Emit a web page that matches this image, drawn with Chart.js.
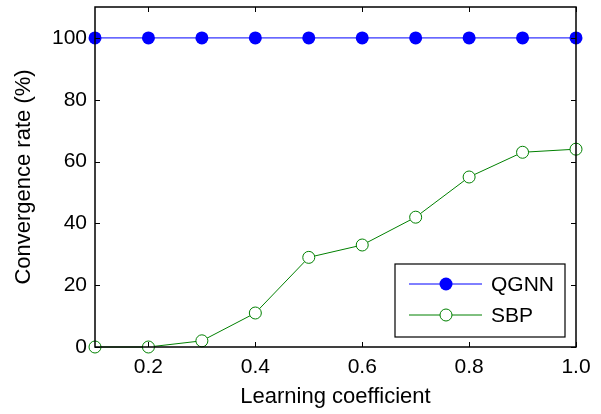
<script src="https://cdn.jsdelivr.net/npm/chart.js"></script>
<style>
  body { margin: 0; background: #fff; }
  #wrap { width: 601px; height: 414px; }
</style>
<div id="wrap"><canvas id="chart"></canvas></div>
<script>
const learningCoef = [0.1, 0.2, 0.3, 0.4, 0.5, 0.6, 0.7, 0.8, 0.9, 1.0];
const qgnn = [100, 100, 100, 100, 100, 100, 100, 100, 100, 100];
const sbp = [0, 0, 2, 11, 29, 33, 42, 55, 63, 64];
const xTicks = [0.2, 0.4, 0.6, 0.8, 1.0];
const yTicks = [0, 20, 40, 60, 80, 100];

const FONT = '"Liberation Sans", Arial, sans-serif';

// MATLAB-like frame with inward ticks, plus boxed legend
const matlabFrame = {
  id: 'matlabFrame',
  afterDatasetsDraw(chart) {
    const { ctx, chartArea: a, scales } = chart;
    ctx.save();
    ctx.strokeStyle = '#000';
    ctx.lineWidth = 1;
    ctx.beginPath();
    xTicks.forEach(v => {
      const x = Math.round(scales.x.getPixelForValue(v)) + 0.5;
      ctx.moveTo(x, a.bottom); ctx.lineTo(x, a.bottom - 5);
      ctx.moveTo(x, a.top); ctx.lineTo(x, a.top + 5);
    });
    yTicks.forEach(v => {
      const y = Math.round(scales.y.getPixelForValue(v)) + 0.5;
      ctx.moveTo(a.left, y); ctx.lineTo(a.left + 5, y);
      ctx.moveTo(a.right, y); ctx.lineTo(a.right - 5, y);
    });
    ctx.stroke();
    ctx.lineWidth = 1.5;
    ctx.strokeRect(a.left, a.top, a.right - a.left, a.bottom - a.top);

    // legend
    const bx = 395, by = 264, bw = 170, bh = 73;
    ctx.fillStyle = '#fff';
    ctx.fillRect(bx, by, bw, bh);
    ctx.lineWidth = 1.2;
    ctx.strokeRect(bx, by, bw, bh);
    chart.data.datasets.forEach((ds, i) => {
      const y = by + 20 + i * 31;
      ctx.strokeStyle = ds.borderColor;
      ctx.lineWidth = 1;
      ctx.beginPath();
      ctx.moveTo(409, y); ctx.lineTo(482, y);
      ctx.stroke();
      ctx.beginPath();
      ctx.arc(446, y, ds.pointRadius, 0, Math.PI * 2);
      if (ds.pointBackgroundColor !== '#fff') {
        ctx.fillStyle = ds.pointBackgroundColor;
        ctx.fill();
      } else {
        ctx.fillStyle = '#fff';
        ctx.fill();
        ctx.stroke();
      }
      ctx.fillStyle = '#000';
      ctx.font = '21px ' + FONT;
      ctx.textBaseline = 'middle';
      ctx.textAlign = 'left';
      ctx.fillText(ds.label, 491, y + 1);
    });
    ctx.restore();
  }
};

new Chart(document.getElementById('chart'), {
  type: 'line',
  data: {
    datasets: [
      {
        label: 'QGNN',
        data: learningCoef.map((x, i) => ({ x, y: qgnn[i] })),
        borderColor: '#0000ff',
        backgroundColor: '#0000ff',
        pointBackgroundColor: '#0000ff',
        pointBorderColor: '#0000ff',
        pointRadius: 6.5,
        pointBorderWidth: 0,
        borderWidth: 1,
        clip: false
      },
      {
        label: 'SBP',
        data: learningCoef.map((x, i) => ({ x, y: sbp[i] })),
        borderColor: '#008000',
        backgroundColor: '#008000',
        pointBackgroundColor: '#fff',
        pointBorderColor: '#008000',
        pointRadius: 6,
        pointBorderWidth: 1,
        borderWidth: 1,
        clip: false
      }
    ]
  },
  options: {
    responsive: true,
    maintainAspectRatio: false,
    animation: false,
    events: [],
    layout: { padding: { left: 11, top: 7, right: 25, bottom: 0 } },
    plugins: { legend: { display: false }, tooltip: { enabled: false } },
    scales: {
      x: {
        type: 'linear',
        min: 0.1,
        max: 1.0,
        afterBuildTicks: s => { s.ticks = xTicks.map(v => ({ value: v })); },
        afterFit: s => { s.height = 67; },
        grid: { display: false, drawTicks: false },
        border: { display: false },
        ticks: {
          color: '#000',
          font: { family: FONT, size: 21 },
          padding: 8,
          maxRotation: 0,
          callback: v => Number(v).toFixed(1)
        },
        title: {
          display: true,
          text: 'Learning coefficient',
          color: '#000',
          font: { family: FONT, size: 22 },
          padding: { top: 0, bottom: 4 }
        }
      },
      y: {
        type: 'linear',
        min: 0,
        max: 110,
        afterBuildTicks: s => { s.ticks = yTicks.map(v => ({ value: v })); },
        afterFit: s => { s.width = 84; s.paddingTop = 0; s.paddingBottom = 0; },
        grid: { display: false, drawTicks: false },
        border: { display: false },
        ticks: {
          color: '#000',
          font: { family: FONT, size: 21 },
          padding: 8
        },
        title: {
          display: true,
          text: 'Convergence rate (%)',
          color: '#000',
          font: { family: FONT, size: 22 },
          padding: { top: 0, bottom: 0 }
        }
      }
    }
  },
  plugins: [matlabFrame]
});
</script>
